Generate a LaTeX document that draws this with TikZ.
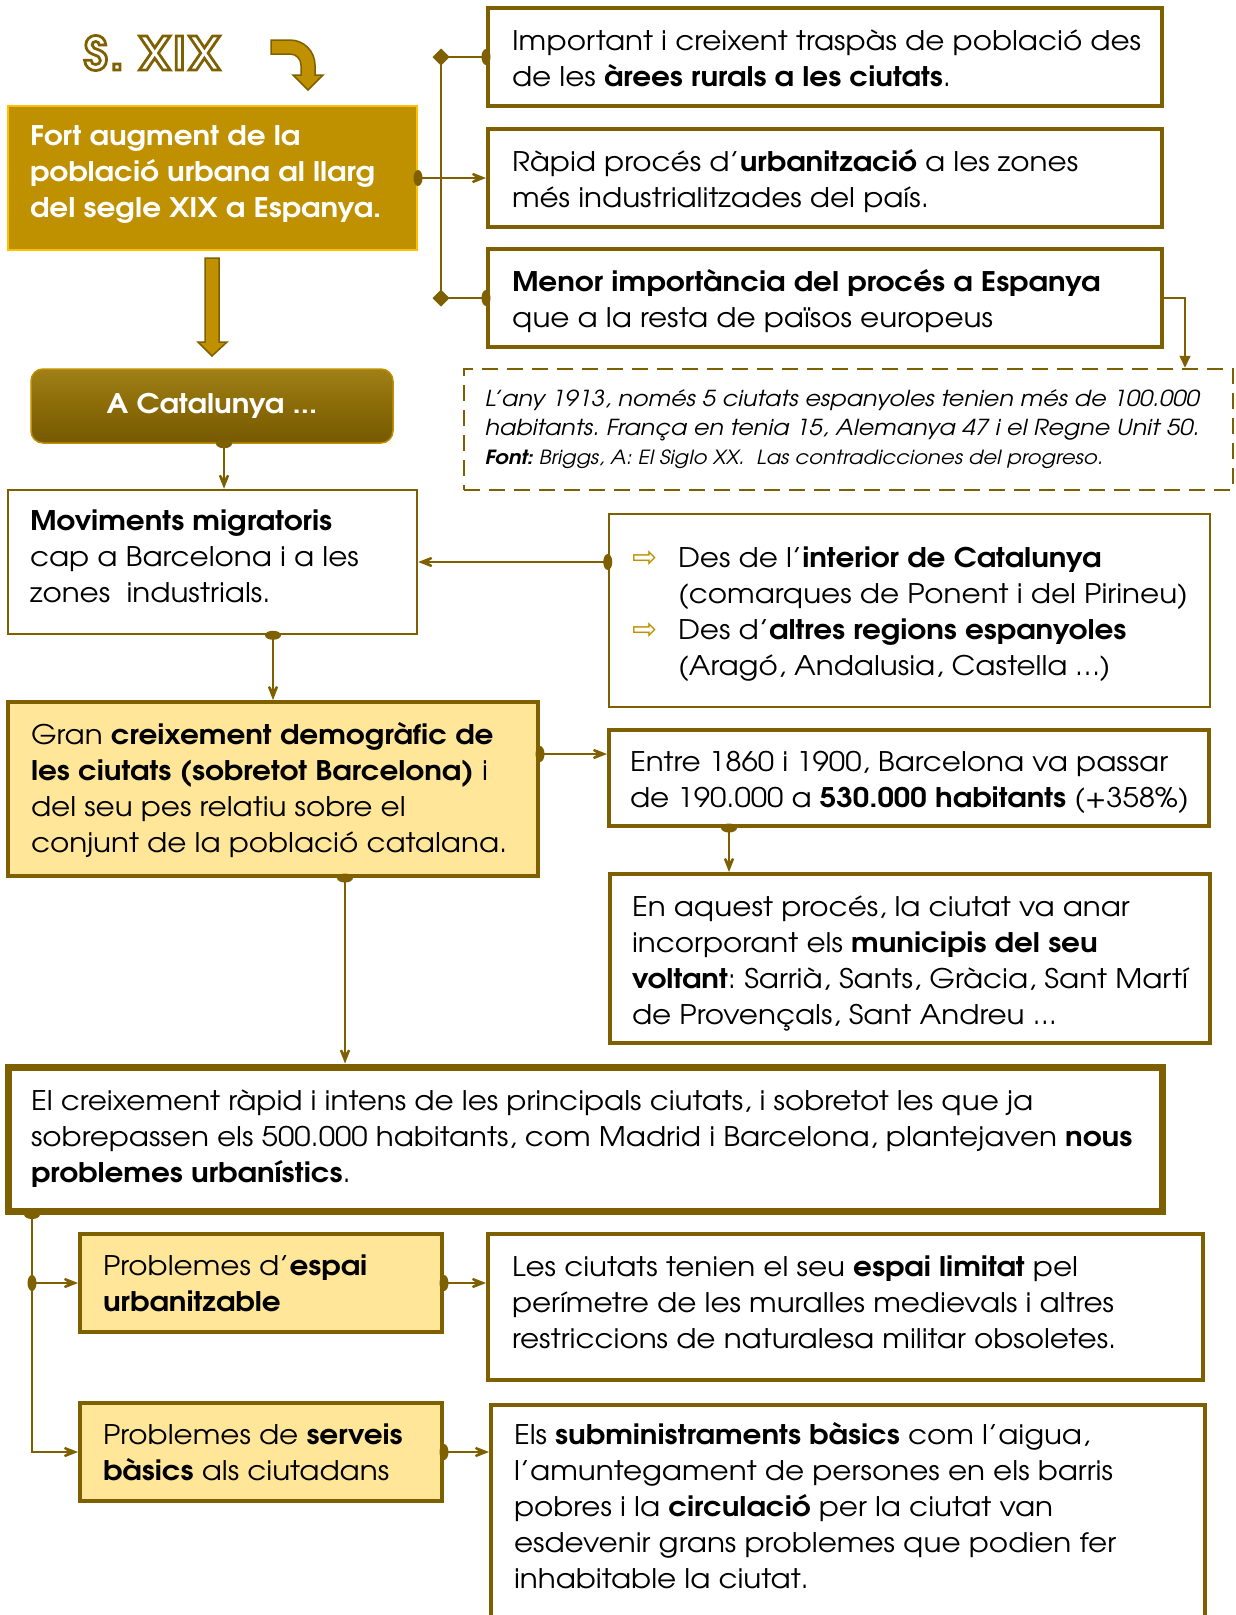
\documentclass[tikz,border=0pt]{standalone}
\usepackage{fontspec}
\setmainfont{texgyreadventor}[Extension=.otf,UprightFont=*-regular,BoldFont=*-bold,ItalicFont=*-italic,BoldItalicFont=*-bolditalic,FakeStretch=1.09]
\newfontfamily\djv{DejaVu Sans}
\newfontfamily\ttlfont{texgyreadventor}[Extension=.otf,UprightFont=*-bold,FakeBold=6,LetterSpace=6]
\usetikzlibrary{arrows.meta,calc}
\definecolor{goldd}{HTML}{7F6000}
\definecolor{gold}{HTML}{BF9000}
\definecolor{goldl}{HTML}{FFC000}
\definecolor{yel}{HTML}{FFE699}
\definecolor{catT}{HTML}{A08016}
\definecolor{catM}{HTML}{8B6B08}
\definecolor{catB}{HTML}{765A02}
\newcommand\boxtxt[3][0pt]{\makebox[#2][l]{\raisebox{#1}[\height][\depth]{\begin{tabular}{@{}l@{}}#3\end{tabular}}}}
\newcommand\dotv[1]{\fill[goldd] #1 ellipse [x radius=4.5pt, y radius=8pt];}
\newcommand\doth[1]{\fill[goldd] #1 ellipse [x radius=8pt, y radius=4.5pt];}
\newcommand\bul{\makebox[46pt][l]{\djv\fontsize{30}{36}\selectfont\textcolor{gold}{⇨}}}
\begin{document}
\begin{tikzpicture}[x=1pt,y=-1pt,
  every node/.style={font=\fontsize{27}{36}\selectfont\frenchspacing, inner sep=0pt},
  bx/.style={rectangle, draw=goldd, line width=4pt, fill=white},
  bxthin/.style={bx, line width=2.5pt},
  bxy/.style={bx, fill=yel},
  con/.style={draw=goldd, line width=2.6pt},
  arr/.style={con, -{Stealth[length=24pt,width=19pt,inset=15pt]}},
  tri/.style={draw=goldd, line width=1.5pt, -{Triangle[length=12pt,width=11pt]}}]
\path[use as bounding box] (0,0) rectangle (1235,1615);
\clip (0,0) rectangle (1235,1615);
\fill[white] (0,0) rectangle (1235,1615);

% title
\node (ttl) at (152,53) {\ttlfont\fontsize{46}{46}\selectfont\color{white}\special{pdf:literal direct 0.498 0.376 0 RG}S. XIX};
\filldraw[fill=gold, draw=goldd, line width=1.5pt] (271,40) -- (290,40) .. controls (303.8,40) and (315,51.2) .. (315,65) -- (315,75) -- (323,75) -- (308,90) -- (293,75) -- (301,75) -- (301,65) .. controls (301,58.9) and (296.1,54) .. (290,54) -- (271,54) -- cycle;

% boxes
\node[rectangle, fill=gold, draw=goldl, line width=2pt, minimum width=409pt, minimum height=144pt, text=white, font=\fontsize{27}{36}\selectfont\frenchspacing\bfseries] (fort) at (212.5,178) {\boxtxt[4pt]{365pt}{Fort augment de la\\ població urbana al llarg\\ del segle XIX a Espanya.}};
\node[bx, minimum width=674pt, minimum height=98pt] (b1) at (825,57) {\boxtxt[-4pt]{626pt}{Important i creixent traspàs de població des\\ de les \textbf{àrees rurals a les ciutats}.}};
\node[bx, minimum width=674pt, minimum height=98pt] (b2) at (825,178) {\boxtxt[-4pt]{626pt}{Ràpid procés d’\textbf{urbanització} a les zones\\ més industrialitzades del país.}};
\node[bx, minimum width=674pt, minimum height=98pt] (b3) at (825,298) {\boxtxt[-4pt]{626pt}{\textbf{Menor importància del procés a Espanya}\\ que a la resta de països europeus}};

\filldraw[fill=gold, draw=goldd, line width=1.5pt] (205,258) -- (219,258) -- (219,342) -- (227,342) -- (212,356) -- (198,342) -- (205,342) -- cycle;

\node[rectangle, rounded corners=12pt, top color=catT, bottom color=catB, middle color=catM, draw=gold, line width=1.5pt, minimum width=362pt, minimum height=74pt, text=white, font=\fontsize{27}{36}\selectfont\bfseries] (cat) at (212,406) {A Catalunya ...};

\node[rectangle, draw=goldd, line width=2.5pt, dash pattern=on 16pt off 9pt, fill=white, minimum width=769pt, minimum height=121pt, font=\fontsize{22}{29}\selectfont\frenchspacing\itshape] (note) at (848.5,429.5) {\boxtxt{727pt}{L’any 1913, només 5 ciutats espanyoles tenien més de 100.000\\ habitants. França en tenia 15, Alemanya 47 i el Regne Unit 50.\\ \fontsize{19.5}{24}\selectfont\textbf{Font:} Briggs, A: El Siglo XX.\ \ Las contradicciones del progreso.}};

\node[bxthin, minimum width=409pt, minimum height=144pt] (mov) at (212.5,562) {\boxtxt[3pt]{365pt}{\textbf{Moviments migratoris}\\ cap a Barcelona i a les\\ zones\ \ industrials.}};
\node[bxthin, minimum width=601pt, minimum height=193pt] (bul) at (909.5,610.5) {\boxtxt[-4pt]{555pt}{\bul Des de l’\textbf{interior de Catalunya}\\ \hspace*{46pt}(comarques de Ponent i del Pirineu)\\ \bul Des d’\textbf{altres regions espanyoles}\\ \hspace*{46pt}(Aragó, Andalusia, Castella …)}};

\node[bxy, minimum width=530pt, minimum height=174pt] (gran) at (273,789) {\boxtxt[-2pt]{484pt}{Gran \textbf{creixement demogràfic de}\\ \textbf{les ciutats (sobretot Barcelona)} i\\ del seu pes relatiu sobre el\\ conjunt de la població catalana.}};
\node[bx, minimum width=600pt, minimum height=96pt] (entre) at (909,778) {\boxtxt[-4pt]{558pt}{Entre 1860 i 1900, Barcelona va passar\\ de 190.000 a \textbf{530.000 habitants} (+358\%)}};
\node[bx, minimum width=600pt, minimum height=169pt] (enaq) at (910,958.5) {\boxtxt[-5pt]{556pt}{En aquest procés, la ciutat va anar\\ incorporant els \textbf{municipis del seu}\\ \textbf{voltant}: Sarrià, Sants, Gràcia, Sant Martí\\ de Provençals, Sant Andreu ...}};

\node[bx, line width=7pt, minimum width=1154pt, minimum height=144pt] (big) at (585,1139) {\boxtxt{1108pt}{El creixement ràpid i intens de les principals ciutats, i sobretot les que ja\\ sobrepassen els 500.000 habitants, com Madrid i Barcelona, plantejaven \textbf{nous}\\ \textbf{problemes urbanístics}.}};

\node[bxy, minimum width=362pt, minimum height=98pt] (esp) at (261,1283) {\boxtxt[-3pt]{316pt}{Problemes d’\textbf{espai}\\ \textbf{urbanitzable}}};
\node[bx, minimum width=715pt, minimum height=146pt] (les) at (845.5,1307) {\boxtxt[2pt]{667pt}{Les ciutats tenien el seu \textbf{espai limitat} pel\\ perímetre de les muralles medievals i altres\\ restriccions de naturalesa militar obsoletes.}};
\node[bxy, minimum width=362pt, minimum height=98pt] (serv) at (261,1452) {\boxtxt[-3pt]{316pt}{Problemes de \textbf{serveis}\\ \textbf{bàsics} als ciutadans}};
\node[bx, anchor=north west, minimum width=714pt, minimum height=300pt] (els) at (489,1403) {\boxtxt{668pt}{Els \textbf{subministraments bàsics} com l’aigua,\\ l’amuntegament de persones en els barris\\ pobres i la \textbf{circulació} per la ciutat van\\ esdevenir grans problemes que podien fer\\ inhabitable la ciutat.}\rule[-175pt]{0pt}{175pt}};

% connectors top
\coordinate (d1) at (441,57);
\coordinate (d3) at (441,298);
\draw[con] (d1) -- (d3);
\draw[con] (d1) -- (b1.west);
\draw[con] (d3) -- (b3.west);
\draw[arr] (fort.east) -- (b2.west);
\fill[goldd] (d1) +(0,-8.5) -- +(8.5,0) -- +(0,8.5) -- +(-8.5,0) -- cycle;
\fill[goldd] (d3) +(0,-8.5) -- +(8.5,0) -- +(0,8.5) -- +(-8.5,0) -- cycle;
\dotv{(b1.west)}
\dotv{(b3.west)}
\dotv{(fort.east)}
\coordinate (nt) at ([xshift=336.5pt]note.north);
\draw[tri] (b3.east) -| (nt);

% middle
\draw[arr] ([xshift=12pt]cat.south) -- ([xshift=12pt]cat.south |- mov.north);
\doth{([xshift=12pt]cat.south)}
\draw[arr] (mov.east -| bul.west) -- (mov.east);
\dotv{(mov.east -| bul.west)}
\draw[arr] (gran.north |- mov.south) -- (gran.north);
\doth{(gran.north |- mov.south)}
\coordinate (gr) at ([yshift=35pt]gran.east);
\draw[arr] (gr) -- (gr -| entre.west);
\dotv{(gr)}
\coordinate (es) at ([xshift=-180pt]entre.south);
\draw[arr] (es) -- (es |- enaq.north);
\doth{(es)}
\coordinate (gs) at ([xshift=72pt]gran.south);
\draw[arr] (gs) -- (gs |- big.north);
\doth{(gs)}

% bottom
\coordinate (bs) at ([xshift=-553pt]big.south);
\draw[arr] (bs) |- (serv.west);
\draw[arr] (bs |- esp.west) -- (esp.west);
\doth{(bs)}
\dotv{(bs |- esp.west)}
\draw[arr] (esp.east) -- (esp.east -| les.west);
\dotv{(esp.east)}
\draw[arr] (serv.east) -- (serv.east -| els.west);
\dotv{(serv.east)}
\end{tikzpicture}
\end{document}
